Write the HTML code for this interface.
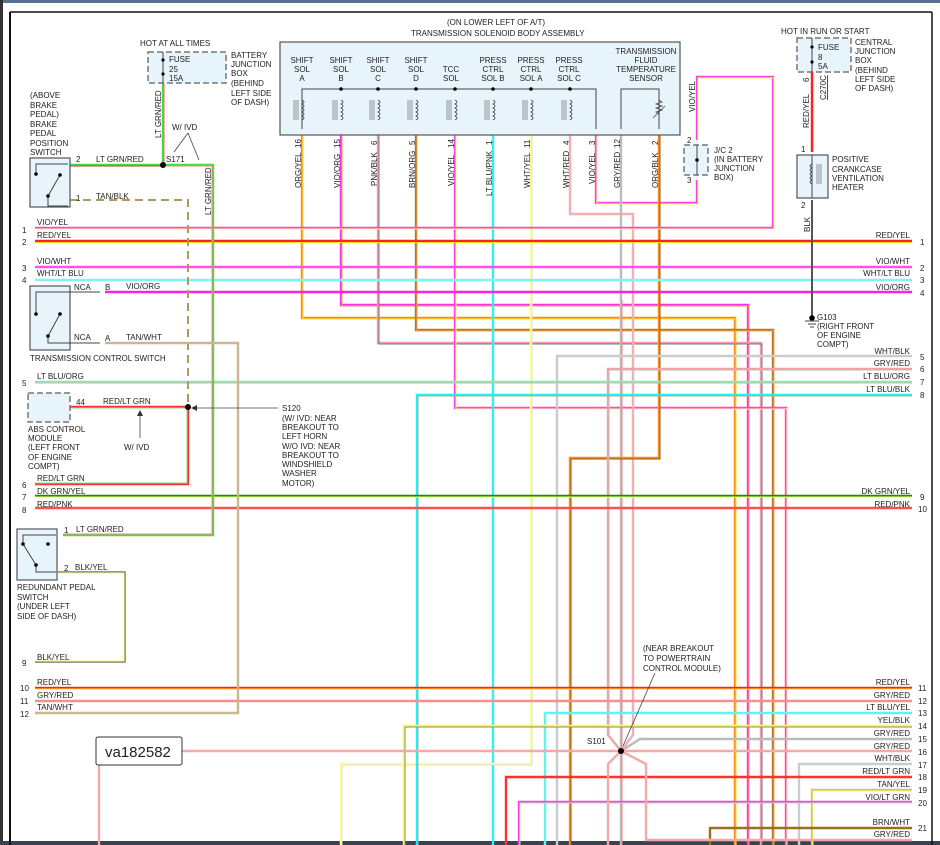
<!DOCTYPE html>
<html><head><meta charset="utf-8"><style>
html,body{margin:0;padding:0;background:#fff;width:940px;height:845px;overflow:hidden}
svg{display:block}
text{font-family:"Liberation Sans",sans-serif;font-size:8px;fill:#222}
.w{fill:none;stroke-width:2.4}
.t{fill:none;stroke-width:1}
.box{fill:#e8f4fc;stroke:#555;stroke-width:1.2}
.dbox{fill:#e8f4fc;stroke:#777;stroke-width:1.5;stroke-dasharray:6,3}
.k{stroke:#444;stroke-width:1;fill:none}
</style></head><body>
<svg width="940" height="845" viewBox="0 0 940 845">
<rect x="0" y="0" width="940" height="3" fill="#56708f"/>
<rect x="0" y="0" width="3" height="845" fill="#333"/>
<rect x="0" y="841" width="940" height="4" fill="#3a4250"/>
<line x1="10" y1="12" x2="10" y2="845" stroke="#111" stroke-width="2"/>
<line x1="10" y1="12" x2="932" y2="12" stroke="#111" stroke-width="1.5"/>
<line x1="932" y1="12" x2="932" y2="845" stroke="#111" stroke-width="1.5"/>

<polyline class="w" stroke="#ff8c10" points="302,135 302,318 735,318 735,845"/><polyline class="t" stroke="#ffe040" points="303,135 303,319 736,319 736,845"/>
<polyline class="w" stroke="#ff30f0" points="341,135 341,305 748,305 748,845"/><polyline class="t" stroke="#ffa040" points="342,135 342,306 749,306 749,845"/>
<polyline class="w" stroke="#f49ab0" points="378,135 378,343 761,343 761,845"/><polyline class="t" stroke="#777" points="379,135 379,344 762,344 762,845"/>
<polyline class="w" stroke="#b07a30" points="416,135 416,330 773,330 773,845"/><polyline class="t" stroke="#ffa040" points="417,135 417,331 774,331 774,845"/>
<polyline class="w" stroke="#ff40f0" points="455,135 455,408 786,408 786,845"/><polyline class="t" stroke="#ffff60" points="456,135 456,409 787,409 787,845"/>
<polyline class="w" stroke="#30f0f0" points="493,135 493,845"/>
<polyline class="w" stroke="#ffff90" points="531,135 531,764 341,764 341,845"/><polyline class="t" stroke="#ddd" points="532,135 532,765 342,765 342,845"/>
<polyline class="w" stroke="#f4b0b0" points="570,135 570,214 633,214 633,735 621,751"/>
<polyline class="w" stroke="#ff40f0" points="596,135 596,203 697,203 697,180"/><polyline class="t" stroke="#ffff60" points="597,135 597,204 698,204 698,180"/>
<polyline class="w" stroke="#bbb" points="621,135 621,845"/><polyline class="t" stroke="#f08080" points="622,300 622,845"/>
<polyline class="w" stroke="#ff8c10" points="659,135 659,458 570,458 570,845"/><polyline class="t" stroke="#8a5a20" points="660,135 660,459 571,459 571,845"/>
<polyline class="w" stroke="#ff40f0" points="697,140 697,77 773,77 773,228 35,228"/><polyline class="t" stroke="#ffff60" points="698,140 698,78 774,78 774,229 35,229"/>

<polyline class="w" stroke="#ff2020" points="35,241 912,241"/><polyline class="t" stroke="#ffe020" points="35,242.5 912,242.5"/>
<polyline class="w" stroke="#ff50f0" points="35,267 912,267"/>
<polyline class="w" stroke="#80f4f4" points="35,280 912,280"/>
<polyline class="w" stroke="#ff20e0" points="105,292 912,292"/>
<polyline class="w" stroke="#ccc" points="912,356 557,356 557,845"/>
<polyline class="w" stroke="#f4a0a0" points="912,369 608,369 608,735 621,751"/><polyline class="t" stroke="#bbb" points="912,370 609,370 609,735"/>
<polyline class="w" stroke="#60f0f0" points="35,382 912,382"/><polyline class="t" stroke="#ffb060" points="35,383 912,383"/>
<polyline class="w" stroke="#20f0f0" points="912,395 417,395 417,845"/><polyline class="t" stroke="#aaa" points="912,396 418,396 418,845"/>
<polyline class="w" stroke="#109010" points="35,496 912,496"/><polyline class="t" stroke="#ffff60" points="35,497 912,497"/>
<polyline class="w" stroke="#ff5050" points="35,508 912,508"/>
<polyline class="w" stroke="#ff2020" points="35,688 912,688"/><polyline class="t" stroke="#ffe020" points="35,689 912,689"/>
<polyline class="w" stroke="#f49090" points="35,701 912,701"/>
<polyline class="w" stroke="#60f4f0" points="912,713 545,713 545,845"/>
<polyline class="w" stroke="#ffff40" points="912,726 404,726 404,845"/><polyline class="t" stroke="#888" points="912,727 405,727 405,845"/>
<polyline class="w" stroke="#bbb" points="912,739 640,739 621,751"/>
<polyline class="w" stroke="#f4a8a8" points="912,751 99,751 99,845"/>
<polyline class="w" stroke="#ccc" points="912,764 799,764 799,845"/>
<polyline class="w" stroke="#ff3030" points="912,777 506,777 506,845"/>
<polyline class="w" stroke="#d0c080" points="912,790 812,790 812,845"/><polyline class="t" stroke="#ffff40" points="912,791 813,791 813,845"/>
<polyline class="w" stroke="#ff40f0" points="912,802 519,802 519,845"/><polyline class="t" stroke="#a0f0a0" points="912,803 520,803 520,845"/>
<polyline class="w" stroke="#9a7020" points="912,828 710,828 710,845"/>
<polyline class="w" stroke="#f4a8a8" points="912,840 646,840 646,764 621,751 608,764 608,845"/>
<circle cx="621" cy="751" r="3" fill="#000"/>
<text x="587" y="744">S101</text>
<text x="643" y="651">(NEAR BREAKOUT</text><text x="643" y="661">TO POWERTRAIN</text><text x="643" y="671">CONTROL MODULE)</text>
<line x1="655" y1="673" x2="623" y2="746" stroke="#444" stroke-width="0.8"/>

<polyline class="w" stroke="#40e040" points="163,83 163,165"/><polyline class="t" stroke="#ff6060" points="164,83 164,165"/>
<polyline class="w" stroke="#40e040" points="70,165 163,165"/><polyline class="t" stroke="#c04040" points="70,166 163,166"/>
<polyline class="w" stroke="#40e040" points="163,165 213,165 213,535 63,535"/><polyline class="t" stroke="#ff8080" points="163,166 212,166 212,534 63,534"/>
<circle cx="163" cy="165" r="3" fill="#000"/>
<polyline fill="none" stroke="#b09a60" stroke-width="2" stroke-dasharray="8,5" points="70,200 188,200 188,407"/>
<polyline class="w" stroke="#c8b890" points="105,343 238,343 238,713 35,713"/>
<polyline class="w" stroke="#ff3030" points="70,407 188,407 188,484 35,484"/><polyline class="t" stroke="#80e080" points="70,408 187,408 187,483 35,483"/>
<circle cx="188" cy="407" r="3" fill="#000"/>
<polyline fill="none" stroke="#777" stroke-width="1.5" points="57,572 125,572 125,662 35,662"/><polyline class="t" stroke="#ffff60" points="57,573 124,573 124,661 35,661"/>
<line x1="192" y1="408" x2="278" y2="408" stroke="#444" stroke-width="0.8"/><polygon points="191,408 197,405 197,411" fill="#333"/>
<line x1="140" y1="438" x2="140" y2="412" stroke="#444" stroke-width="0.8"/><polygon points="140,410 137,416 143,416" fill="#333"/>

<rect class="box" x="30" y="158" width="40" height="49"/>
<polyline class="k" points="36,174 36,164 68,164"/><polyline class="k" points="48,196 48,206 68,206"/><line class="k" x1="48" y1="196" x2="60" y2="175"/>
<circle cx="36" cy="174" r="1.8" fill="#000"/><circle cx="60" cy="175" r="1.8" fill="#000"/><circle cx="48" cy="196" r="1.8" fill="#000"/>
<text x="76" y="162">2</text><text x="96" y="162">LT GRN/RED</text><text x="76" y="201">1</text><text x="96" y="199">TAN/BLK</text>
<text x="30" y="98">(ABOVE</text><text x="30" y="108">BRAKE</text><text x="30" y="117">PEDAL)</text><text x="30" y="127">BRAKE</text><text x="30" y="136">PEDAL</text><text x="30" y="146">POSITION</text><text x="30" y="155">SWITCH</text>
<text x="166" y="162">S171</text><text x="172" y="130">W/ IVD</text>
<line x1="188" y1="133" x2="174" y2="152" stroke="#444" stroke-width="0.8"/><line x1="188" y1="133" x2="199" y2="160" stroke="#444" stroke-width="0.8"/>
<text x="140" y="46">HOT AT ALL TIMES</text>
<rect class="dbox" x="148" y="52" width="78" height="31"/>
<line class="k" x1="163" y1="52" x2="163" y2="83"/><circle cx="163" cy="60" r="1.6" fill="#000"/><circle cx="163" cy="74" r="1.6" fill="#000"/>
<text x="169" y="62">FUSE</text><text x="169" y="72">25</text><text x="169" y="81">15A</text>
<text x="231" y="58">BATTERY</text><text x="231" y="67">JUNCTION</text><text x="231" y="76">BOX</text><text x="231" y="86">(BEHIND</text><text x="231" y="96">LEFT SIDE</text><text x="231" y="105">OF DASH)</text>
<text transform="translate(161,138) rotate(-90)">LT GRN/RED</text>
<text transform="translate(211,215) rotate(-90)">LT GRN/RED</text>

<text x="37" y="225">VIO/YEL</text><text x="22" y="233">1</text>
<text x="37" y="238">RED/YEL</text><text x="22" y="245">2</text>
<text x="37" y="264">VIO/WHT</text><text x="22" y="271">3</text>
<text x="37" y="276">WHT/LT BLU</text><text x="22" y="283">4</text>
<rect class="box" x="30" y="286" width="40" height="64"/>
<polyline class="k" points="36,314 36,292 70,292 100,292"/><polyline class="k" points="48,336 48,343 100,343"/><line class="k" x1="48" y1="336" x2="60" y2="314"/>
<circle cx="36" cy="314" r="1.8" fill="#000"/><circle cx="60" cy="314" r="1.8" fill="#000"/><circle cx="48" cy="336" r="1.8" fill="#000"/>
<text x="74" y="290">NCA</text><text x="105" y="290">B</text><text x="126" y="289">VIO/ORG</text>
<text x="74" y="340">NCA</text><text x="105" y="341">A</text><text x="126" y="340">TAN/WHT</text>
<text x="30" y="361">TRANSMISSION CONTROL SWITCH</text>
<text x="37" y="379">LT BLU/ORG</text><text x="22" y="386">5</text>
<rect class="dbox" x="28" y="393" width="42" height="29"/>
<text x="76" y="405">44</text><text x="103" y="404">RED/LT GRN</text>
<text x="28" y="432">ABS CONTROL</text><text x="28" y="441">MODULE</text><text x="28" y="450">(LEFT FRONT</text><text x="28" y="460">OF ENGINE</text><text x="28" y="469">COMPT)</text>
<text x="124" y="450">W/ IVD</text>
<text x="282" y="411">S120</text><text x="282" y="421">(W/ IVD: NEAR</text><text x="282" y="430">BREAKOUT TO</text><text x="282" y="439">LEFT HORN</text><text x="282" y="449">W/O IVD: NEAR</text><text x="282" y="458">BREAKOUT TO</text><text x="282" y="467">WINDSHIELD</text><text x="282" y="476">WASHER</text><text x="282" y="486">MOTOR)</text>
<text x="37" y="481">RED/LT GRN</text><text x="22" y="488">6</text>
<text x="37" y="494">DK GRN/YEL</text><text x="22" y="500">7</text>
<text x="37" y="507">RED/PNK</text><text x="22" y="513">8</text>
<rect class="box" x="17" y="529" width="40" height="51"/>
<polyline class="k" points="23,544 23,535 56,535"/><polyline class="k" points="36,565 36,572 56,572"/><line class="k" x1="23" y1="544" x2="36" y2="565"/>
<circle cx="23" cy="544" r="1.8" fill="#000"/><circle cx="48" cy="544" r="1.8" fill="#000"/><circle cx="36" cy="565" r="1.8" fill="#000"/>
<text x="64" y="533">1</text><text x="76" y="532">LT GRN/RED</text>
<text x="64" y="571">2</text><text x="75" y="570">BLK/YEL</text>
<text x="17" y="590">REDUNDANT PEDAL</text><text x="17" y="600">SWITCH</text><text x="17" y="609">(UNDER LEFT</text><text x="17" y="619">SIDE OF DASH)</text>
<text x="37" y="660">BLK/YEL</text><text x="22" y="666">9</text>
<text x="37" y="685">RED/YEL</text><text x="20" y="691">10</text>
<text x="37" y="698">GRY/RED</text><text x="20" y="704">11</text>
<text x="37" y="710">TAN/WHT</text><text x="20" y="717">12</text>

<rect x="96" y="737" width="86" height="28" rx="2" fill="#fff" stroke="#333" stroke-width="1"/>
<text x="105" y="757" style="font-size:15px">va182582</text>

<text x="447" y="25">(ON LOWER LEFT OF A/T)</text><text x="411" y="36">TRANSMISSION SOLENOID BODY ASSEMBLY</text>
<rect class="box" x="280" y="42" width="400" height="93"/>
<polyline class="k" points="302,129 302,89 596,89 596,129"/>
<polyline class="k" points="621,129 621,89 659,89 659,129"/>
<g stroke="#444" fill="none" stroke-width="0.8">
<path d="M302,100 q4,2 0,4 q4,2 0,4 q4,2 0,4 q4,2 0,4 q4,2 0,4"/><path d="M341,100 q4,2 0,4 q4,2 0,4 q4,2 0,4 q4,2 0,4 q4,2 0,4"/><path d="M378,100 q4,2 0,4 q4,2 0,4 q4,2 0,4 q4,2 0,4 q4,2 0,4"/><path d="M416,100 q4,2 0,4 q4,2 0,4 q4,2 0,4 q4,2 0,4 q4,2 0,4"/><path d="M455,100 q4,2 0,4 q4,2 0,4 q4,2 0,4 q4,2 0,4 q4,2 0,4"/><path d="M493,100 q4,2 0,4 q4,2 0,4 q4,2 0,4 q4,2 0,4 q4,2 0,4"/><path d="M531,100 q4,2 0,4 q4,2 0,4 q4,2 0,4 q4,2 0,4 q4,2 0,4"/><path d="M570,100 q4,2 0,4 q4,2 0,4 q4,2 0,4 q4,2 0,4 q4,2 0,4"/>
</g>
<path stroke="#555" stroke-width="0.6" fill="none" d="M294,100v20M296,100v20M298,100v20M333,100v20M335,100v20M337,100v20M370,100v20M372,100v20M374,100v20M408,100v20M410,100v20M412,100v20M447,100v20M449,100v20M451,100v20M485,100v20M487,100v20M489,100v20M523,100v20M525,100v20M527,100v20M562,100v20M564,100v20M566,100v20"/>
<g stroke="#444" fill="none" stroke-width="0.8"><path d="M659,100 l3,2 -6,2 6,2 -6,2 6,2 -6,2 3,2"/><path d="M653,118 l12,-12"/></g>
<g fill="#000"><circle cx="341" cy="89" r="1.8"/><circle cx="378" cy="89" r="1.8"/><circle cx="416" cy="89" r="1.8"/><circle cx="455" cy="89" r="1.8"/><circle cx="493" cy="89" r="1.8"/><circle cx="531" cy="89" r="1.8"/><circle cx="570" cy="89" r="1.8"/></g>
<g>
<text x="302" y="63" text-anchor="middle">SHIFT</text><text x="302" y="72" text-anchor="middle">SOL</text><text x="302" y="81" text-anchor="middle">A</text>
<text x="341" y="63" text-anchor="middle">SHIFT</text><text x="341" y="72" text-anchor="middle">SOL</text><text x="341" y="81" text-anchor="middle">B</text>
<text x="378" y="63" text-anchor="middle">SHIFT</text><text x="378" y="72" text-anchor="middle">SOL</text><text x="378" y="81" text-anchor="middle">C</text>
<text x="416" y="63" text-anchor="middle">SHIFT</text><text x="416" y="72" text-anchor="middle">SOL</text><text x="416" y="81" text-anchor="middle">D</text>
<text x="451" y="72" text-anchor="middle">TCC</text><text x="451" y="81" text-anchor="middle">SOL</text>
<text x="493" y="63" text-anchor="middle">PRESS</text><text x="493" y="72" text-anchor="middle">CTRL</text><text x="493" y="81" text-anchor="middle">SOL B</text>
<text x="531" y="63" text-anchor="middle">PRESS</text><text x="531" y="72" text-anchor="middle">CTRL</text><text x="531" y="81" text-anchor="middle">SOL A</text>
<text x="569" y="63" text-anchor="middle">PRESS</text><text x="569" y="72" text-anchor="middle">CTRL</text><text x="569" y="81" text-anchor="middle">SOL C</text>
<text x="646" y="54" text-anchor="middle">TRANSMISSION</text><text x="646" y="63" text-anchor="middle">FLUID</text><text x="646" y="72" text-anchor="middle">TEMPERATURE</text><text x="646" y="81" text-anchor="middle">SENSOR</text>
</g>
<g>
<text transform="translate(301,148) rotate(-90)">16</text><text transform="translate(301,188) rotate(-90)">ORG/YEL</text>
<text transform="translate(340,148) rotate(-90)">15</text><text transform="translate(340,188) rotate(-90)">VIO/ORG</text>
<text transform="translate(377,145) rotate(-90)">6</text><text transform="translate(377,186) rotate(-90)">PNK/BLK</text>
<text transform="translate(415,145) rotate(-90)">5</text><text transform="translate(415,188) rotate(-90)">BRN/ORG</text>
<text transform="translate(454,148) rotate(-90)">14</text><text transform="translate(454,186) rotate(-90)">VIO/YEL</text>
<text transform="translate(492,145) rotate(-90)">1</text><text transform="translate(492,196) rotate(-90)">LT BLU/PNK</text>
<text transform="translate(530,148) rotate(-90)">11</text><text transform="translate(530,188) rotate(-90)">WHT/YEL</text>
<text transform="translate(569,145) rotate(-90)">4</text><text transform="translate(569,188) rotate(-90)">WHT/RED</text>
<text transform="translate(595,145) rotate(-90)">3</text><text transform="translate(595,184) rotate(-90)">VIO/YEL</text>
<text transform="translate(620,148) rotate(-90)">12</text><text transform="translate(620,188) rotate(-90)">GRY/RED</text>
<text transform="translate(658,145) rotate(-90)">2</text><text transform="translate(658,188) rotate(-90)">ORG/BLK</text>
<text transform="translate(695,112) rotate(-90)">VIO/YEL</text>
</g>

<rect class="dbox" x="684" y="145" width="24" height="30"/>
<line class="k" x1="697" y1="145" x2="697" y2="175"/><circle cx="697" cy="160" r="1.8" fill="#000"/>
<text x="687" y="143">2</text><text x="687" y="183">3</text>
<text x="714" y="153">J/C 2</text><text x="714" y="162">(IN BATTERY</text><text x="714" y="171">JUNCTION</text><text x="714" y="180">BOX)</text>

<text x="781" y="34">HOT IN RUN OR START</text>
<rect class="dbox" x="797" y="38" width="54" height="34"/>
<line class="k" x1="812" y1="38" x2="812" y2="72"/><circle cx="812" cy="47" r="1.6" fill="#000"/><circle cx="812" cy="62" r="1.6" fill="#000"/>
<text x="818" y="50">FUSE</text><text x="818" y="60">8</text><text x="818" y="69">5A</text>
<text x="855" y="45">CENTRAL</text><text x="855" y="54">JUNCTION</text><text x="855" y="63">BOX</text><text x="855" y="73">(BEHIND</text><text x="855" y="82">LEFT SIDE</text><text x="855" y="91">OF DASH)</text>
<polyline class="w" stroke="#ff2020" points="812,72 812,152"/><polyline class="t" stroke="#ffe020" points="813.5,72 813.5,152"/>
<text transform="translate(809,82) rotate(-90)">6</text>
<text transform="translate(809,128) rotate(-90)">RED/YEL</text>
<text transform="translate(826,100) rotate(-90)" style="text-decoration:underline">C270C</text>
<rect class="box" x="797" y="155" width="31" height="43"/>
<line class="k" x1="812" y1="155" x2="812" y2="198"/>
<path d="M812,164 q-4,2 0,4 q-4,2 0,4 q-4,2 0,4 q-4,2 0,4 q-4,2 0,4" stroke="#444" fill="none" stroke-width="0.8"/>
<path d="M817,164v20M819,164v20M821,164v20" stroke="#555" stroke-width="0.6"/>
<text x="801" y="152">1</text><text x="801" y="208">2</text>
<text x="832" y="162">POSITIVE</text><text x="832" y="172">CRANKCASE</text><text x="832" y="181">VENTILATION</text><text x="832" y="190">HEATER</text>
<line x1="812" y1="200" x2="812" y2="318" stroke="#555" stroke-width="2"/>
<text transform="translate(810,232) rotate(-90)">BLK</text>
<circle cx="812" cy="318" r="2.8" fill="#000"/><path d="M805,321h14M808,324h8M810,327h4" stroke="#444"/>
<text x="817" y="320">G103</text><text x="817" y="329">(RIGHT FRONT</text><text x="817" y="338">OF ENGINE</text><text x="817" y="347">COMPT)</text>

<g text-anchor="end">
<text x="910" y="238">RED/YEL</text><text x="910" y="264">VIO/WHT</text><text x="910" y="276">WHT/LT BLU</text><text x="910" y="290">VIO/ORG</text>
<text x="910" y="354">WHT/BLK</text><text x="910" y="366">GRY/RED</text><text x="910" y="379">LT BLU/ORG</text><text x="910" y="392">LT BLU/BLK</text>
<text x="910" y="494">DK GRN/YEL</text><text x="910" y="507">RED/PNK</text>
<text x="910" y="685">RED/YEL</text><text x="910" y="698">GRY/RED</text><text x="910" y="710">LT BLU/YEL</text><text x="910" y="723">YEL/BLK</text><text x="910" y="736">GRY/RED</text><text x="910" y="749">GRY/RED</text><text x="910" y="761">WHT/BLK</text><text x="910" y="774">RED/LT GRN</text><text x="910" y="787">TAN/YEL</text><text x="910" y="800">VIO/LT GRN</text><text x="910" y="825">BRN/WHT</text><text x="910" y="837">GRY/RED</text>
</g>
<g>
<text x="920" y="245">1</text><text x="920" y="271">2</text><text x="920" y="283">3</text><text x="920" y="296">4</text><text x="920" y="360">5</text><text x="920" y="372">6</text><text x="920" y="385">7</text><text x="920" y="398">8</text><text x="920" y="500">9</text><text x="918" y="512">10</text>
<text x="918" y="691">11</text><text x="918" y="704">12</text><text x="918" y="716">13</text><text x="918" y="729">14</text><text x="918" y="742">15</text><text x="918" y="755">16</text><text x="918" y="768">17</text><text x="918" y="780">18</text><text x="918" y="793">19</text><text x="918" y="806">20</text><text x="918" y="831">21</text>
</g>
</svg>
</body></html>
